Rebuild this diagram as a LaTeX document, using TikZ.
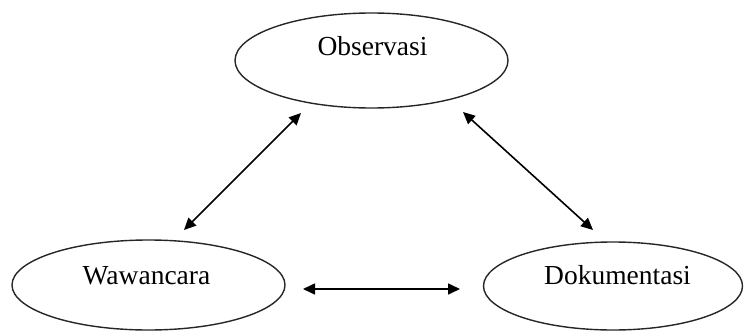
\documentclass[tikz,border=0pt]{standalone}
\usepackage{fontspec}
\setmainfont{Liberation Serif}
\usetikzlibrary{shapes.geometric,arrows.meta}
\tikzset{
  oval/.style={draw=black!85, line width=1.4pt, ellipse, inner sep=0pt},
  lbl/.style={anchor=base, inner sep=0pt, font=\fontsize{27.5}{33}\selectfont},
  link/.style={line width=1.6pt, {Triangle[length=12pt,width=11pt]}-{Triangle[length=12pt,width=11pt]}}
}
\begin{document}
\begin{tikzpicture}[x=1pt,y=-1pt]
\useasboundingbox (0,0) rectangle (744,332);
\node[oval, minimum width=273pt, minimum height=95pt] (obs) at (371.5,60.5) {};
\node[oval, minimum width=273pt, minimum height=90pt] (waw) at (148.5,285) {};
\node[oval, minimum width=259pt, minimum height=88pt] (dok) at (613,286) {};
\node[lbl] (tobs) at (372.5,55) {Observasi};
\node[lbl] (twaw) at (146.5,284) {Wawancara};
\node[lbl] (tdok) at (617.5,284) {Dokumentasi};
\coordinate (ow1) at (301,113);
\coordinate (ow2) at (184,230);
\coordinate (od1) at (463,112);
\coordinate (od2) at (593,230);
\coordinate (wd1) at (303,289);
\coordinate (wd2) at (460,289);
\draw[link] (ow1) -- (ow2);
\draw[link] (od1) -- (od2);
\draw[link] (wd1) -- (wd2);
\end{tikzpicture}
\end{document}
